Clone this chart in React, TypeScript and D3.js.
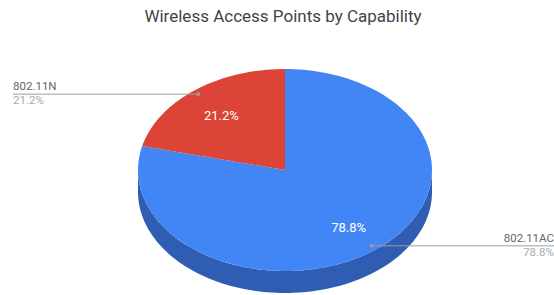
import React from "react";
import * as d3 from "d3";

const title = "Wireless Access Points by Capability";
const categories = ["802.11AC", "802.11N"];
const values = [78.8, 21.2];
const colors = ["#4285F4", "#DB4437"];
const sideColors = ["#2F5DB3", "#9E3128"];

const W = 554;
const H = 295;
const cx = 285;
const cy = 170;
const rx = 147;
const ry = 101;
const depth = 22;
const FONT = "Roboto, Arial, sans-serif";

function pt(theta: number, r = 1, dy = 0): [number, number] {
  return [cx + rx * r * Math.sin(theta), cy - ry * r * Math.cos(theta) + dy];
}

function topPath(a0: number, a1: number): string {
  const n = Math.max(8, Math.ceil(((a1 - a0) / (2 * Math.PI)) * 200));
  const pts: [number, number][] = [[cx, cy]];
  for (let i = 0; i <= n; i++) pts.push(pt(a0 + ((a1 - a0) * i) / n));
  return "M" + pts.map((p) => p.join(",")).join("L") + "Z";
}

function sidePath(a0: number, a1: number): string | null {
  const lo = Math.max(a0, Math.PI / 2);
  const hi = Math.min(a1, (3 * Math.PI) / 2);
  if (hi <= lo) return null;
  const n = 100;
  const top: [number, number][] = [];
  const bot: [number, number][] = [];
  for (let i = 0; i <= n; i++) {
    const t = lo + ((hi - lo) * i) / n;
    top.push(pt(t));
    bot.push(pt(t, 1, depth));
  }
  const pts = top.concat(bot.reverse());
  return "M" + pts.map((p) => p.join(",")).join("L") + "Z";
}

export default function App() {
  const arcs = d3
    .pie<number>()
    .sort(null)
    .value((d) => d)(values);
  const total = d3.sum(values);
  const fmt = (v: number) => d3.format(".1f")((v / total) * 100) + "%";

  return (
    <svg
      width={W}
      height={H}
      style={{ position: "absolute", left: 0, top: 0, background: "#fff" }}
    >
      <rect width={W} height={H} fill="#fff" />
      <text
        x={283}
        y={22}
        textAnchor="middle"
        fontFamily={FONT}
        fontSize={17}
        fill="#444"
      >
        {title}
      </text>
      {arcs.map((a, i) => {
        const d = sidePath(a.startAngle, a.endAngle);
        return d ? <path key={"s" + i} d={d} fill={sideColors[i]} /> : null;
      })}
      {arcs.map((a, i) => (
        <path key={"t" + i} d={topPath(a.startAngle, a.endAngle)} fill={colors[i]} />
      ))}
      {arcs.map((a, i) => {
        const mid = (a.startAngle + a.endAngle) / 2;
        const [lx, ly] = pt(mid, 0.7);
        return (
          <text
            key={"l" + i}
            x={lx}
            y={ly + 1.5}
            textAnchor="middle"
            dominantBaseline="central"
            fontFamily={FONT}
            fontSize={13}
            fill="#fff"
          >
            {fmt(a.value)}
          </text>
        );
      })}
      {arcs.map((a, i) => {
        const mid = (a.startAngle + a.endAngle) / 2;
        const [dx, dy] = pt(mid, 0.955);
        const right = Math.sin(mid) > 0;
        const ex = right ? W : 13;
        return (
          <g key={"o" + i}>
            <line x1={dx} y1={dy} x2={ex} y2={dy} stroke="#9e9e9e" strokeWidth={1} />
            <circle cx={dx} cy={dy} r={1.8} fill="#9e9e9e" />
            <text
              x={right ? W : 13}
              y={dy - 4}
              textAnchor={right ? "end" : "start"}
              fontFamily={FONT}
              fontSize={11.5}
              fill="#666"
            >
              {categories[i]}
            </text>
            <text
              x={right ? W : 13}
              y={dy + 10}
              textAnchor={right ? "end" : "start"}
              fontFamily={FONT}
              fontSize={11.5}
              fill="#aaa"
            >
              {fmt(a.value)}
            </text>
          </g>
        );
      })}
    </svg>
  );
}
